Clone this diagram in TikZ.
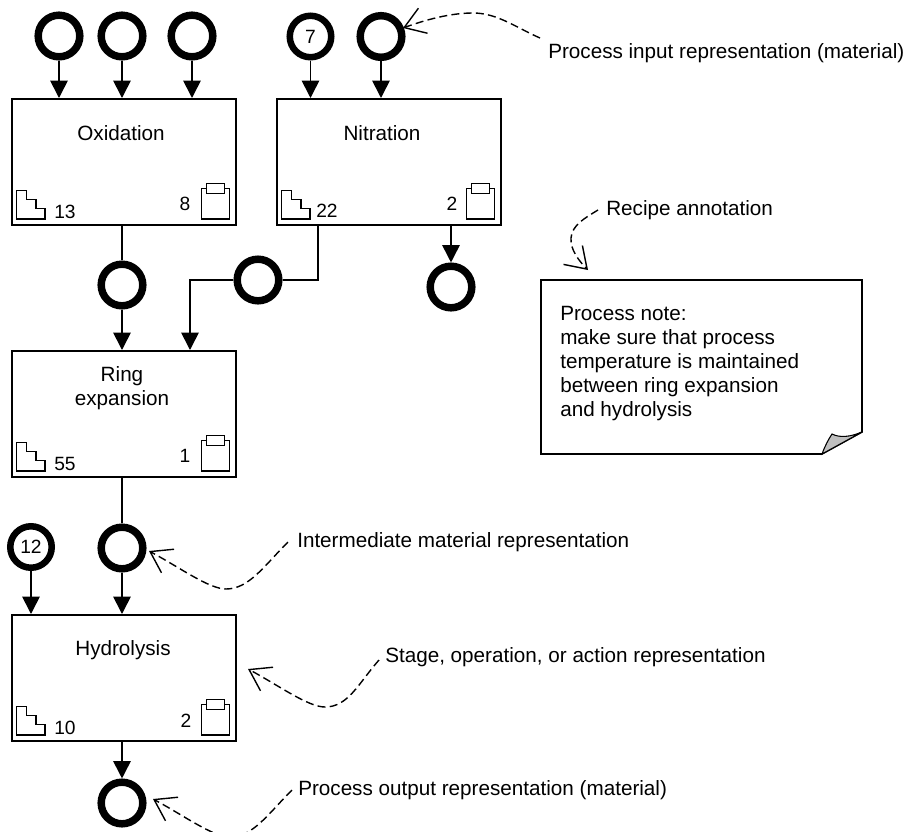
\documentclass[tikz,border=0pt]{standalone}
\usepackage{fontspec}
\setmainfont{Liberation Sans}
\usetikzlibrary{arrows.meta}
\tikzset{
  x=0.75pt,y=-0.75pt,
  every node/.style={font=\fontsize{15.5pt}{18pt}\selectfont,inner sep=0pt},
  num/.style={font=\fontsize{14.4pt}{18pt}\selectfont},
  stagebox/.style={draw,line width=1.2pt,rectangle,minimum width=168pt,minimum height=94.5pt,anchor=north west},
  mat/.style={draw,circle,line width=5.6pt,minimum size=31.2pt},
  matnum/.style={draw,circle,line width=4.9pt,minimum size=31.1pt,num},
  plain/.style={line width=1.25pt},
  flow/.style={line width=1.25pt,-{Triangle[length=13pt,width=13pt]}},
  callout/.style={line width=1.05pt,dash pattern=on 6pt off 3.2pt,-{Straight Barb[length=15pt,width=20pt,line width=1.05pt]}},
  icon/.style={line width=1.05pt},
  stairs/.pic={\draw[icon] (5.7,-35) -- (15.5,-35) -- (15.5,-26) -- (25,-26) -- (25,-17) -- (34,-17) -- (34,-6.5) -- (5.7,-6.5) -- cycle;},
  clipb/.pic={\draw[icon] (-35,-37) rectangle (-7,-6.5);\draw[icon,fill=white] (-30,-42) rectangle (-12,-32);},
}
\begin{document}
\begin{tikzpicture}
\useasboundingbox[fill=white] (0,0) rectangle (908,832);
% stages
\node[stagebox] (ox) at (11,98) {};
\node[stagebox] (ni) at (276,98) {};
\node[stagebox] (ri) at (11,350) {};
\node[stagebox] (hy) at (11,614) {};
\node (oxt) at (121,133.5) {Oxidation};
\node (nit) at (382,133.5) {Nitration};
\node[align=center] (rit) at (122,388.5) {Ring\\expansion};
\node (hyt) at (123,650.5) {Hydrolysis};
% icons
\pic at (ox.south west) {stairs}; \pic at (ox.south east) {clipb};
\pic at (ni.south west) {stairs}; \pic at (ni.south east) {clipb};
\pic at (ri.south west) {stairs}; \pic at (ri.south east) {clipb};
\pic at (hy.south west) {stairs}; \pic at (hy.south east) {clipb};
\node[num] (n1) at (65,212) {13}; \node[num] (n2) at (185,204) {8};
\node[num] (n3) at (327,211) {22}; \node[num] (n4) at (452,204) {2};
\node[num] (n5) at (65,464) {55}; \node[num] (n6) at (185,456) {1};
\node[num] (n7) at (65,728) {10}; \node[num] (n8) at (186,721) {2};
% materials
\node[mat] (a1) at (59,36) {};
\node[mat] (a2) at (122,36) {};
\node[mat] (a3) at (192,36) {};
\node[matnum] (b1) at (310.5,36.5) {7};
\node[mat] (b2) at (381,36.5) {};
\node[mat] (c1) at (122,285) {};
\node[mat] (c2) at (258,280) {};
\node[mat] (c3) at (451,287) {};
\node[mat] (d1) at (122,548) {};
\node[matnum] (d2) at (31,547) {12};
\node[mat] (e1) at (122,803) {};
% connectors
\draw[flow] (a1) -- (a1 |- ox.north);
\draw[flow] (a2) -- (a2 |- ox.north);
\draw[flow] (a3) -- (a3 |- ox.north);
\draw[flow] (b1) -- (b1 |- ni.north);
\draw[flow] (b2) -- (b2 |- ni.north);
\draw[plain] (c1 |- ox.south) -- (c1);
\draw[flow] (c1) -- (c1 |- ri.north);
\coordinate (nb) at (318,224);
\coordinate (rt) at (190,350);
\draw[plain] (nb) |- (c2);
\draw[flow] (c2) -| (rt);
\draw[flow] (c3 |- ni.south) -- (c3);
\draw[plain] (d1 |- ri.south) -- (d1);
\draw[flow] (d1) -- (d1 |- hy.north);
\draw[flow] (d2) -- (d2 |- hy.north);
\draw[flow] (e1 |- hy.south) -- (e1);
% note
\node[anchor=west,align=left] (notetext) at (560,364) {Process note:\\make sure that process\\temperature is maintained\\between ring expansion\\and hydrolysis};
\draw[line width=1.2pt,line join=miter] (541,280) -- (862,280) -- (862,432) -- (822,454) -- (541,454) -- cycle;
\draw[line width=0.8pt,fill=black!25] (822,454) .. controls (825,446) and (828,440) .. (832,434) .. controls (840,438) and (850,437) .. (862,432) -- cycle;
% annotations
\node[anchor=west] (l1) at (548,53) {Process input representation (material)};
\node[anchor=west] (l2) at (606,210) {Recipe annotation};
\node[anchor=west] (l3) at (297,542) {Intermediate material representation};
\node[anchor=west] (l4) at (385,657) {Stage, operation, or action representation};
\node[anchor=west] (l5) at (298,790) {Process output representation (material)};
\coordinate (t1) at (403,28);
\coordinate (t2) at (588,270);
\coordinate (t3) at (149,551);
\coordinate (t4) at (248,669);
\coordinate (t5) at (153,799);
\draw[callout] (540,38) .. controls (515,27) and (497,13) .. (473,13) .. controls (450,13) and (425,20) .. (t1);
\draw[callout] (598,210) .. controls (585,218) and (572,225) .. (571,238) .. controls (570,250) and (580,262) .. (t2);
\draw[callout] (288,542) .. controls (264,566) and (249,589) .. (226,589) .. controls (209,589) and (179,567) .. (t3);
\draw[callout] (379,660) .. controls (358,684) and (348,707) .. (325,707) .. controls (308,707) and (278,685) .. (t4);
\draw[callout] (292,790) .. controls (268,814) and (253,837) .. (230,837) .. controls (213,837) and (183,815) .. (t5);
\end{tikzpicture}
\end{document}
